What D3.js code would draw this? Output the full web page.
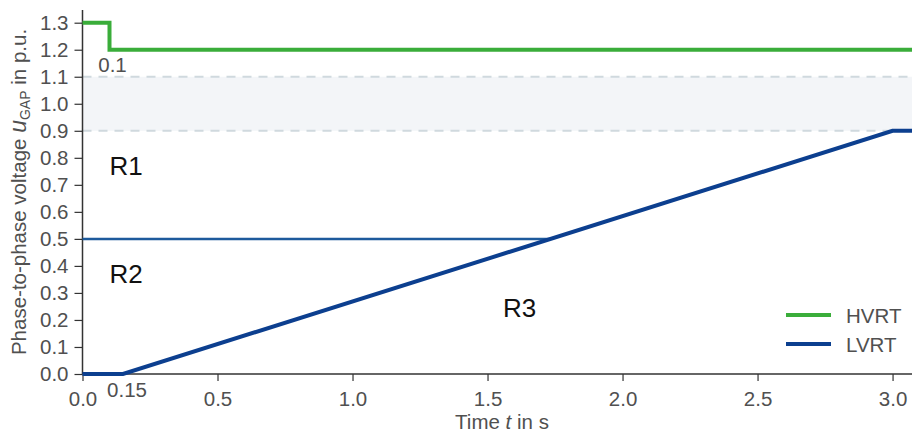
<!DOCTYPE html>
<html>
<head>
<meta charset="utf-8">
<script src="https://cdn.jsdelivr.net/npm/d3@7"></script>
<style>
  body { margin: 0; background: #fff; }
  text { font-family: "Liberation Sans", Arial, sans-serif; }
</style>
</head>
<body>
<svg width="912" height="435"></svg>
<script>
// data
var hvrtT = [0, 0.1, 0.1, 3.1];
var hvrtU = [1.3, 1.3, 1.2, 1.2];
var lvrtT = [0, 0.15, 3.0, 3.1];
var lvrtU = [0, 0, 0.9, 0.9];
var boundT = [0, 1.733];
var boundU = [0.5, 0.5];
var bandU = [0.9, 1.1];
var xTicks = [0, 0.5, 1.0, 1.5, 2.0, 2.5, 3.0];
var yTicks = [0, 0.1, 0.2, 0.3, 0.4, 0.5, 0.6, 0.7, 0.8, 0.9, 1.0, 1.1, 1.2, 1.3];
var regions = [
  { name: "R1", t: 0.1, u: 0.736 },
  { name: "R2", t: 0.1, u: 0.337 },
  { name: "R3", t: 1.557, u: 0.211 }
];
var legendNames = ["HVRT", "LVRT"];

var svg = d3.select("svg"),
  margin = { left: 82.5, right: 0, top: 10, bottom: 61 },
  width = +svg.attr("width"),
  height = +svg.attr("height");

var x = d3.scaleLinear().domain([0, 3.072]).range([margin.left, width]);
var y = d3.scaleLinear().domain([0, 1.347]).range([height - margin.bottom, margin.top]);

var green = "#3aad3a",
  blue = "#0c3f8f",
  blue2 = "#1d5a9c",
  grey = "#505050",
  fs = "20.5px";

// band between 0.9 and 1.1
svg.append("rect")
  .attr("x", x(0))
  .attr("y", y(bandU[1]))
  .attr("width", x(3.072) - x(0))
  .attr("height", y(bandU[0]) - y(bandU[1]))
  .attr("fill", "#f3f5f8");

svg.selectAll(".band-line")
  .data(bandU)
  .enter()
  .append("line")
  .attr("x1", x(0))
  .attr("x2", width)
  .attr("y1", function (d) { return y(d); })
  .attr("y2", function (d) { return y(d); })
  .attr("stroke", "#d0d9de")
  .attr("stroke-width", 2)
  .attr("stroke-dasharray", "9,7");

// axes
var xAxis = svg.append("g")
  .attr("transform", "translate(0," + y(0) + ")")
  .call(d3.axisBottom(x).tickValues(xTicks).tickSize(7).tickPadding(10)
    .tickFormat(d3.format(".1f")));

var yAxis = svg.append("g")
  .attr("transform", "translate(" + x(0) + ",0)")
  .call(d3.axisLeft(y).tickValues(yTicks).tickSize(8).tickPadding(6)
    .tickFormat(d3.format(".1f")));

[xAxis, yAxis].forEach(function (a) {
  a.select(".domain").attr("stroke", "#333").attr("stroke-width", 1.5);
  a.selectAll(".tick line").attr("stroke", "#333").attr("stroke-width", 1.2);
  a.selectAll(".tick text")
    .attr("fill", grey)
    .style("font-size", fs)
    .style("font-family", "'Liberation Sans', Arial, sans-serif");
});
yAxis.select(".domain").attr("d", "M0," + y(0) + "V" + margin.top);
xAxis.select(".domain").attr("d", "M" + x(0) + ",0H" + width);

// extra tick labels
svg.append("text")
  .attr("x", x(0.15) + 4)
  .attr("y", y(0) + 23)
  .attr("text-anchor", "middle")
  .attr("fill", grey)
  .style("font-size", fs)
  .text("0.15");

svg.append("text")
  .attr("x", x(0.1) + 3)
  .attr("y", y(1.2) + 22)
  .attr("text-anchor", "middle")
  .attr("fill", grey)
  .style("font-size", fs)
  .text("0.1");

var line = d3.line()
  .x(function (d) { return x(d[0]); })
  .y(function (d) { return y(d[1]); });

svg.append("path")
  .datum(d3.zip(boundT, boundU))
  .attr("d", line)
  .attr("fill", "none")
  .attr("stroke", blue2)
  .attr("stroke-width", 2.5);

svg.append("path")
  .datum(d3.zip(hvrtT, hvrtU))
  .attr("d", line)
  .attr("fill", "none")
  .attr("stroke", green)
  .attr("stroke-width", 4);

svg.append("path")
  .datum(d3.zip(lvrtT, lvrtU))
  .attr("d", line)
  .attr("fill", "none")
  .attr("stroke", blue)
  .attr("stroke-width", 4);

// region labels
svg.selectAll(".region")
  .data(regions)
  .enter()
  .append("text")
  .attr("x", function (d) { return x(d.t); })
  .attr("y", function (d) { return y(d.u); })
  .attr("fill", "#111")
  .style("font-size", "26px")
  .text(function (d) { return d.name; });

// axis labels
var ylab = svg.append("text")
  .attr("transform", "translate(26," + (y(0) + margin.top) / 2 + ") rotate(-90)")
  .attr("text-anchor", "middle")
  .attr("fill", grey)
  .style("font-size", fs);
ylab.append("tspan").text("Phase-to-phase voltage ");
ylab.append("tspan").attr("font-style", "italic").style("font-size", "23px").text("u");
ylab.append("tspan").attr("baseline-shift", "-25%").style("font-size", "14px").text("GAP");
ylab.append("tspan").text(" in p.u.");

var xlab = svg.append("text")
  .attr("x", 502)
  .attr("y", 429)
  .attr("text-anchor", "middle")
  .attr("fill", grey)
  .style("font-size", fs);
xlab.append("tspan").text("Time ");
xlab.append("tspan").attr("font-style", "italic").text("t");
xlab.append("tspan").text(" in s");

// legend
var legend = svg.append("g").attr("transform", "translate(786,315)");
legend.selectAll("g")
  .data(legendNames)
  .enter()
  .append("g")
  .attr("transform", function (d, i) { return "translate(0," + i * 29 + ")"; })
  .each(function (d, i) {
    var g = d3.select(this);
    g.append("line")
      .attr("x1", 0).attr("x2", 45)
      .attr("stroke", i === 0 ? green : blue)
      .attr("stroke-width", 4);
    g.append("text")
      .attr("x", 60)
      .attr("y", 8)
      .attr("fill", grey)
      .style("font-size", fs)
      .text(d);
  });
</script>
</body>
</html>
